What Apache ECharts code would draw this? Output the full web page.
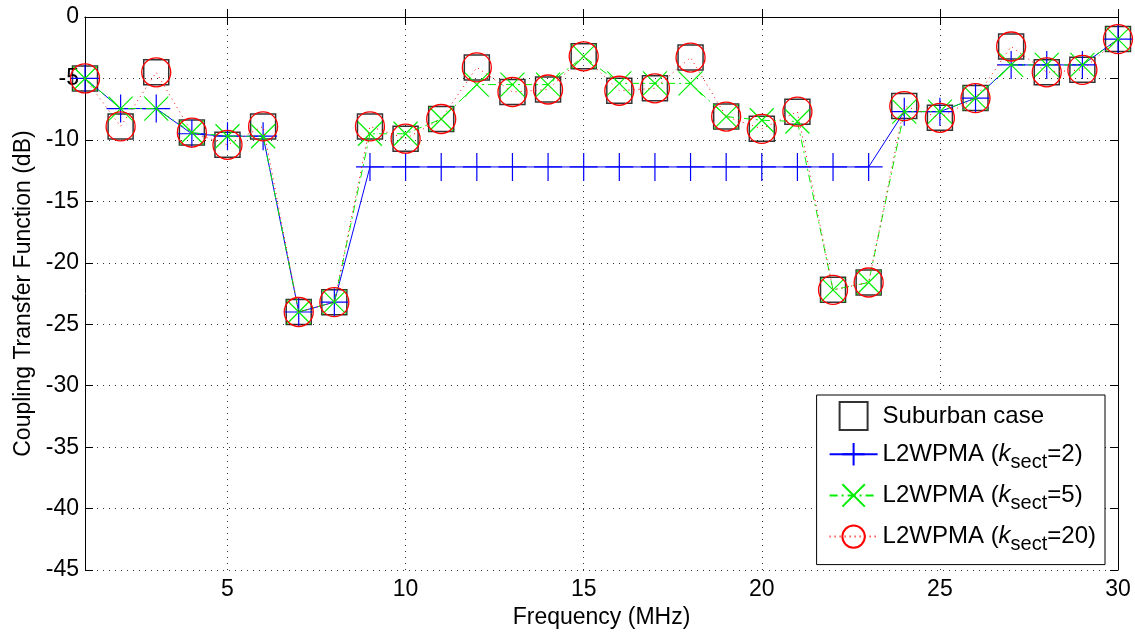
<!DOCTYPE html>
<html>
<head>
<meta charset="utf-8">
<script src="https://cdn.jsdelivr.net/npm/echarts@6/dist/echarts.min.js"></script>
<style>
  html, body { margin: 0; padding: 0; background: #fff; }
  #chart { width: 1135px; height: 634px; }
</style>
</head>
<body>
<div id="chart"></div>
<script>
// frequency points (MHz)
const freq = [1, 2, 3, 4, 5, 6, 7, 8, 9, 10, 11, 12, 13, 14, 15, 16, 17, 18, 19, 20, 21, 22, 23, 24, 25, 26, 27, 28, 29, 30]
// coupling transfer function (dB)
const suburban = [-5.0, -8.9, -4.5, -9.4, -10.4, -8.9, -24.0, -23.2, -8.9, -9.9, -8.3, -4.1, -6.1, -5.9, -3.2, -6.0, -5.8, -3.3, -8.1, -9.1, -7.7, -22.2, -21.6, -7.25, -8.2, -6.6, -2.4, -4.5, -4.3, -1.8]
const k2 = [-5.0, -7.45, -7.45, -9.5, -9.7, -9.7, -24.0, -23.2, -12.2, -12.2, -12.2, -12.2, -12.2, -12.2, -12.2, -12.2, -12.2, -12.2, -12.2, -12.2, -12.2, -12.2, -12.2, -7.7, -7.7, -6.6, -3.9, -3.9, -3.9, -1.8]
const k5 = [-5.0, -7.45, -7.45, -9.4, -9.7, -9.7, -24.0, -23.2, -9.5, -9.5, -8.3, -5.5, -5.5, -5.5, -3.2, -5.4, -5.4, -5.4, -8.1, -8.4, -8.5, -22.2, -21.6, -7.7, -7.7, -6.6, -3.9, -3.9, -3.9, -1.8]
const k20 = [-5.0, -8.9, -4.5, -9.4, -10.4, -8.9, -24.0, -23.2, -8.9, -9.9, -8.3, -4.1, -6.1, -5.9, -3.2, -6.0, -5.8, -3.3, -8.1, -9.1, -7.7, -22.2, -21.6, -7.25, -8.2, -6.6, -2.4, -4.5, -4.3, -1.8]
const xTicks = [5, 10, 15, 20, 25, 30]

const pairs = arr => freq.map((f, i) => [f, arr[i]])
const font = 'Liberation Sans'

const legendNames = {
  'Suburban case': '{n|Suburban case}',
  'k2': '{n|L2WPMA (}{k|k}{s|sect}{n|=2)}',
  'k5': '{n|L2WPMA (}{k|k}{s|sect}{n|=5)}',
  'k20': '{n|L2WPMA (}{k|k}{s|sect}{n|=20)}'
}

const chart = echarts.init(document.getElementById('chart'))
const gridLine = { show: true, lineStyle: { color: '#333', type: [1, 5], width: 1 } }

chart.setOption({
  animation: false,
  textStyle: { fontFamily: font },
  grid: { left: 85, right: 17, top: 17, bottom: 63, show: false },
  xAxis: [{
    type: 'value',
    min: 1,
    max: 30,
    name: 'Frequency (MHz)',
    nameLocation: 'middle',
    nameGap: 34,
    nameTextStyle: { fontSize: 23, color: '#000', fontFamily: font },
    axisLine: { lineStyle: { color: '#000', width: 1 } },
    axisTick: { inside: true, length: 8, customValues: xTicks, lineStyle: { color: '#000' } },
    axisLabel: { customValues: xTicks, fontSize: 23, color: '#000', margin: 8, fontFamily: font },
    splitLine: gridLine
  }, {
    type: 'value',
    min: 1,
    max: 30,
    position: 'top',
    axisLine: { onZero: false, lineStyle: { color: '#000', width: 1 } },
    axisTick: { inside: true, length: 8, customValues: xTicks, lineStyle: { color: '#000' } },
    axisLabel: { show: false },
    splitLine: { show: false }
  }],
  yAxis: [{
    type: 'value',
    min: -45,
    max: 0,
    interval: 5,
    name: 'Coupling Transfer Function (dB)',
    nameLocation: 'middle',
    nameGap: 49,
    nameTextStyle: { fontSize: 23, color: '#000', fontFamily: font },
    axisLine: { onZero: false, lineStyle: { color: '#000', width: 1 } },
    axisTick: { inside: true, length: 8, lineStyle: { color: '#000' } },
    axisLabel: { fontSize: 23, color: '#000', margin: 6, fontFamily: font },
    splitLine: gridLine
  }, {
    type: 'value',
    min: -45,
    max: 0,
    interval: 5,
    position: 'right',
    axisLine: { show: true, onZero: false, lineStyle: { color: '#000', width: 1 } },
    axisTick: { show: true, inside: true, length: 8, lineStyle: { color: '#000' } },
    axisLabel: { show: false },
    splitLine: { show: false }
  }],
  legend: {
    orient: 'vertical',
    right: 30,
    top: 395,
    padding: [6, 9, 10, 12],
    itemGap: 11,
    itemWidth: 48,
    itemHeight: 28,
    backgroundColor: '#fff',
    borderColor: '#000',
    borderWidth: 1,
    borderRadius: 0,
    data: ['Suburban case', 'k2', 'k5', 'k20'],
    formatter: name => legendNames[name],
    textStyle: {
      fontFamily: font,
      color: '#000',
      rich: {
        n: { fontSize: 24, color: '#000', fontFamily: font },
        k: { fontSize: 24, color: '#000', fontStyle: 'italic', fontFamily: font },
        s: { fontSize: 20, color: '#000', fontFamily: font, padding: [16, 0, 0, 0] }
      }
    }
  },
  series: [{
    name: 'Suburban case',
    type: 'scatter',
    data: pairs(suburban),
    symbol: 'path://M0,0 L10,0 L10,10 L0,10 Z',
    symbolKeepAspect: true,
    symbolSize: 25,
    itemStyle: { color: 'rgba(0,0,0,0)', borderColor: '#000', borderWidth: 1.5 },
    emphasis: { disabled: true },
    z: 2
  }, {
    name: 'k2',
    type: 'line',
    data: pairs(k2),
    symbol: 'path://M0,-10 L0,10 M-10,0 L10,0',
    symbolSize: 28,
    lineStyle: { color: '#0000ff', width: 1 },
    itemStyle: { color: '#0000ff', borderColor: '#0000ff', borderWidth: 1.2 },
    emphasis: { disabled: true },
    z: 3
  }, {
    name: 'k5',
    type: 'line',
    data: pairs(k5),
    symbol: 'path://M-10,-10 L10,10 M-10,10 L10,-10',
    symbolSize: 24,
    lineStyle: { color: '#00ee00', width: 1, type: [8, 4, 2, 4] },
    itemStyle: { color: '#00ee00', borderColor: '#00ee00', borderWidth: 1.2 },
    emphasis: { disabled: true },
    z: 4
  }, {
    name: 'k20',
    type: 'line',
    data: pairs(k20),
    symbol: 'circle',
    symbolSize: 29,
    lineStyle: { color: '#ff0000', width: 1, type: [1, 4] },
    itemStyle: { color: 'rgba(0,0,0,0)', borderColor: '#ff0000', borderWidth: 1.3 },
    emphasis: { disabled: true },
    z: 5
  }]
})
</script>
</body>
</html>
